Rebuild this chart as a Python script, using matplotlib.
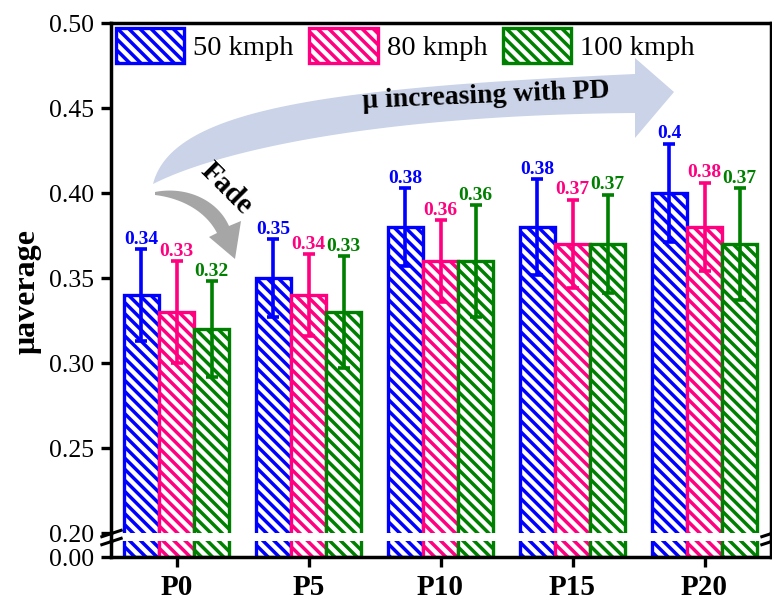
import numpy as np
import matplotlib
matplotlib.use("Agg")
import matplotlib.pyplot as plt
from matplotlib.lines import Line2D
from matplotlib.patches import Polygon

plt.rcParams['font.family'] = ['Liberation Serif', 'DejaVu Serif']
plt.rcParams['hatch.linewidth'] = 2.5

# ── data ─────────────────────────────────────────────
groups = ['P0', 'P5', 'P10', 'P15', 'P20']
speeds = ['50 kmph', '80 kmph', '100 kmph']
mu_50 = [0.34, 0.35, 0.38, 0.38, 0.40]
mu_80 = [0.33, 0.34, 0.36, 0.37, 0.38]
mu_100 = [0.32, 0.33, 0.36, 0.37, 0.37]
err_50 = [0.027, 0.023, 0.023, 0.028, 0.029]
err_80 = [0.030, 0.024, 0.024, 0.026, 0.026]
err_100 = [0.028, 0.033, 0.033, 0.029, 0.033]
labels_50 = ['0.34', '0.35', '0.38', '0.38', '0.4']
labels_80 = ['0.33', '0.34', '0.36', '0.37', '0.38']
labels_100 = ['0.32', '0.33', '0.36', '0.37', '0.37']
colors = ['#0000FF', '#FF0080', '#008000']

W, H = 772, 601
LW = 2.4


def fpos(x, y):
    # figure pixel (top-left origin) -> figure fraction
    return x / W, 1 - y / H


def bez(p, n=60):
    p = np.asarray(p, float)
    t = np.linspace(0, 1, n)[:, None]
    return ((1 - t) ** 3 * p[0] + 3 * (1 - t) ** 2 * t * p[1]
            + 3 * (1 - t) * t ** 2 * p[2] + t ** 3 * p[3])


fig = plt.figure(figsize=(W / 100, H / 100), dpi=100)
ax_top = fig.add_axes([110.5 / W, 1 - 533 / H, 660 / W, 510 / H])
ax_bot = fig.add_axes([110.5 / W, 1 - 557 / H, 660 / W, 16 / H])

x = np.arange(len(groups))
w = 0.8 / 3
series = [(mu_50, err_50, labels_50), (mu_80, err_80, labels_80),
          (mu_100, err_100, labels_100)]

for i, (vals, errs, labs) in enumerate(series):
    xs = x + (i - 1) * w
    col = colors[i]
    for ax in (ax_top, ax_bot):
        ax.bar(xs, vals, w, color='white', edgecolor=col, hatch='\\\\\\',
               linewidth=LW, label=speeds[i] if ax is ax_top else None, zorder=2)
    ax_top.errorbar(xs, vals, yerr=errs, fmt='none', ecolor=col,
                    elinewidth=2.6, capsize=4.5, capthick=2.6, zorder=3)
    for xi, v, e, s in zip(xs, vals, errs, labs):
        ax_top.annotate(s, (xi, v + e), xytext=(0, 1), textcoords='offset points',
                        ha='center', va='bottom', color=col, fontsize=14,
                        fontweight='bold', zorder=4)

for ax in (ax_top, ax_bot):
    ax.set_xlim(-0.5, 4.5)
    for sp in ax.spines.values():
        sp.set_linewidth(2.5)
    ax.tick_params(axis='y', direction='out', length=7, width=2.4,
                   labelsize=18.5, pad=5)

ax_top.set_ylim(0.2, 0.5)
ax_top.set_yticks(np.arange(0.2, 0.501, 0.05))
ax_top.yaxis.set_major_formatter(plt.FormatStrFormatter('%.2f'))
ax_top.spines['bottom'].set_visible(False)
ax_top.tick_params(axis='x', bottom=False, labelbottom=False)

ax_bot.set_ylim(0, 0.02)
ax_bot.set_yticks([0.0])
ax_bot.yaxis.set_major_formatter(plt.FormatStrFormatter('%.2f'))
ax_bot.spines['top'].set_visible(False)
ax_bot.set_xticks(x)
ax_bot.set_xticklabels(groups, fontsize=21, fontweight='bold')
ax_bot.tick_params(axis='x', direction='out', length=7, width=2.4, pad=5)

# continuous spines through the gap + break marks
for xf in (110.5, 770.5):
    fig.add_artist(Line2D([xf / W, xf / W], [1 - 533 / H, 1 - 541 / H],
                          transform=fig.transFigure, color='k', lw=2.5))
brk = dict(marker=[(-1, -0.33), (1, 0.33)], markersize=16, linestyle='none',
           color='k', mec='k', mew=2.2, clip_on=False)
ax_top.plot([0, 1], [0, 0], transform=ax_top.transAxes, **brk)
ax_bot.plot([0, 1], [1, 1], transform=ax_bot.transAxes, **brk)

ax_top.legend(loc='upper left', ncol=3, fontsize=20.5, frameon=False,
              handlelength=2.4, handleheight=1.5, handletextpad=0.32,
              columnspacing=0.55, borderpad=0, borderaxespad=0.18)

fig.text(*fpos(27, 291), 'μaverage', rotation=90, fontsize=23,
         fontweight='bold', ha='center', va='center')

# big curved arrow
upper = bez([(153, 184), (172, 108), (330, 88), (635, 74)])
lower = bez([(153, 184), (220, 150), (380, 115), (635, 113)])
head = np.array([(635, 58), (674, 92), (635, 138)])
pts = np.vstack([upper, head, lower[::-1]])
ax_top.add_patch(Polygon([fpos(px, py) for px, py in pts], closed=True,
                         transform=fig.transFigure, facecolor='#CAD3E7',
                         edgecolor='none', clip_on=False, zorder=1))
fig.text(*fpos(486, 96), 'μ increasing with PD', rotation=2.5, fontsize=20,
         fontweight='bold', ha='center', va='center', rotation_mode='anchor')

# fade arrow
upper = bez([(155, 192), (185, 186), (217, 199), (229, 226)])
lower = bez([(155, 195), (180, 198), (205, 210), (217, 233)])
head = np.array([(241, 221), (235, 259), (209, 237)])
pts = np.vstack([upper, head, lower[::-1]])
ax_top.add_patch(Polygon([fpos(px, py) for px, py in pts], closed=True,
                         transform=fig.transFigure, facecolor='#A6A6A6',
                         edgecolor='none', clip_on=False, zorder=1))
fig.text(*fpos(227, 188), 'Fade', rotation=-45, fontsize=21,
         fontweight='bold', ha='center', va='center', rotation_mode='anchor')

fig.savefig('out.png', dpi=100)
